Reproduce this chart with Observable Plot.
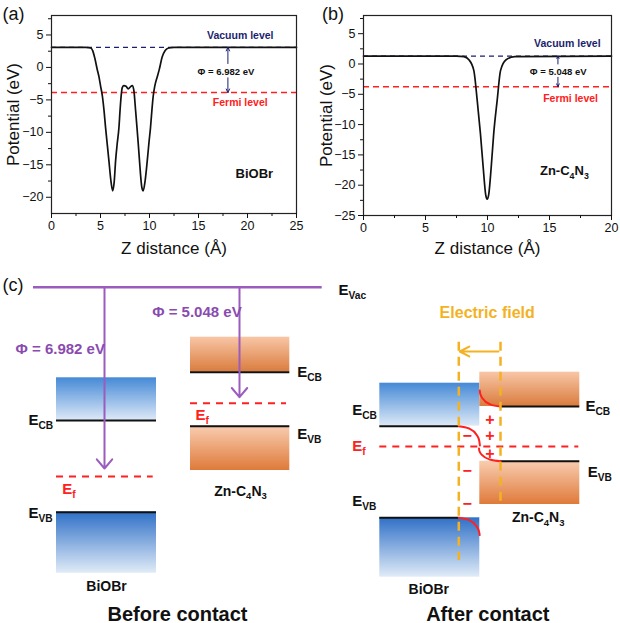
<!DOCTYPE html>
<html><head><meta charset="utf-8">
<script src="https://cdn.jsdelivr.net/npm/d3@7"></script>
<script src="https://cdn.jsdelivr.net/npm/@observablehq/plot@0.6"></script>
<style>
body{margin:0;background:#fff;}
#root{position:relative;width:620px;height:623px;overflow:hidden;background:#fff;}
#root > svg{position:absolute;}
</style></head><body><div id="root"></div>
<script>
const FONT = '"Liberation Sans", Arial, Helvetica, sans-serif';
const NAVY = "#1c1f6e", RED = "#ff2020", PURPLE = "#9a5cbd", PURPLE_TXT = "#8a4bb0", GOLD = "#f4b223";

// ---------- Panel (a): BiOBr planar-averaged potential ----------
const zA = [0, 3.5, 4.0, 4.2, 4.44, 4.65, 4.85, 5.0, 5.19, 5.35, 5.52, 5.7, 5.86, 6.05, 6.24, 6.4, 6.54, 6.7, 6.88, 7.0, 7.12, 7.22, 7.39, 7.6, 7.83, 8.05, 8.24, 8.4, 8.58, 8.72, 8.85, 9.0, 9.08, 9.22, 9.36, 9.55, 9.77, 9.95, 10.1, 10.25, 10.38, 10.55, 10.78, 11.0, 11.29, 11.6, 11.96, 12.5, 25];
const vA = [3.1, 3.1, 3.0, 2.6, 1.3, -0.2, -1.5, -2.8, -4.4, -6.5, -9.3, -12, -14.4, -17.3, -19, -17.6, -14.4, -11.8, -9.3, -6.5, -4.2, -3.1, -2.8, -2.9, -3.3, -3.0, -2.8, -3.5, -6.6, -9.2, -11.7, -14.8, -16.4, -18.5, -19, -17.5, -14.4, -11.5, -9.3, -6.5, -4.4, -2.8, -1.5, -0.3, 1.6, 2.6, 3.0, 3.1, 3.1];
const vacuumA = 3.1, fermiA = -3.88, phiA = 6.982;
const xTicksA = [0, 5, 10, 15, 20, 25], xMinorA = [2.5, 7.5, 12.5, 17.5, 22.5];
const yTicksA = [-20, -15, -10, -5, 0, 5], yMinorA = [-17.5, -12.5, -7.5, -2.5, 2.5, 7.5];

// ---------- Panel (b): Zn-C4N3 planar-averaged potential ----------
const zB = [0, 7.5, 8.1, 8.5, 8.9, 9.17, 9.43, 9.65, 9.85, 9.97, 10.1, 10.3, 10.5, 10.78, 11.05, 11.5, 12.2, 20];
const vB = [1.3, 1.3, 1.2, 0.7, -1.1, -6, -11.5, -17, -21.5, -22.3, -21.5, -17, -11.5, -6, -1.1, 0.7, 1.2, 1.3];
const vacuumB = 1.3, fermiB = -3.75, phiB = 5.048;
const xTicksB = [0, 5, 10, 15, 20], xMinorB = [2.5, 7.5, 12.5, 17.5];
const yTicksB = [-25, -20, -15, -10, -5, 0, 5], yMinorB = [-22.5, -17.5, -12.5, -7.5, -2.5, 2.5, 7.5];

// annotations of (a) and (b) in data units
const noteTextA = ["Vacuum level", "Φ = 6.982 eV", "Fermi level", "BiOBr"];
const noteZA = [19.26, 17.8, 19.26, 20.7];
const noteVA = [4.9, -0.66, -5.4, -16.4];
const noteTextB = ["Vacuum level", "Φ = 5.048 eV", "Fermi level", "Zn-C_{4}N_{3}"];
const noteZB = [16.44, 15.7, 16.7, 16.2];
const noteVB = [3.3, -1.27, -5.77, -17.7];
const arrowZA = 18.0, arrowSegA = [[0.6, vacuumA], [-1.6, fermiA]];
const arrowZB = 15.68, arrowSegB = [[0.0, vacuumB], [-2.2, fermiB]];

// ---------- Panel (c): band diagram (schematic units) ----------
const vacY = 286.7, vacX1 = 33, vacX2 = 321.7;
const bandName   = ["BiOBr CB before","BiOBr VB before","Zn-C4N3 CB before","Zn-C4N3 VB before","BiOBr CB after","BiOBr VB after","Zn-C4N3 CB after","Zn-C4N3 VB after"];
const bandLeft   = [56, 56, 190, 190, 379.3, 379.3, 479.3, 479.3];
const bandRight  = [156, 156, 289.3, 289.3, 479.3, 479.3, 579.3, 579.3];
const bandTop    = [377.3, 511.7, 336.7, 425.7, 382.7, 517.3, 371.7, 460.7];
const bandBottom = [420, 572.7, 371.7, 470, 425.7, 576.7, 406, 504];
const bandGrad   = ["gBlueCB","gBlueVB","gOrangeCB","gOrangeVB","gBlueCB","gBlueVB","gOrangeCB","gOrangeVB"];
const edgeX1 = [56, 56, 190, 190, 379.3, 379.3, 500, 500];
const edgeX2 = [156, 156, 289.3, 289.3, 458.3, 458.3, 579.3, 579.3];
const edgeY  = [420, 511.7, 371.7, 425.7, 425.7, 517.3, 406, 460.7];
const fermiX1 = [56, 190, 379.3], fermiX2 = [152.7, 286, 578.3], fermiY = [476, 402.7, 446];
const phiArrowX = [104, 239], phiArrowEnd = [468, 396.7];
const fieldLineX = [458.3, 500], fieldLineTop = 341.7, fieldLineBottom = [560, 501.7];
const fieldArrowFrom = 498, fieldArrowTo = 459.3, fieldArrowY = 351;
const bends = [
  [[458.3,425.7],[468.7,428],[476.2,434.4],[478.7,440],[479.4,445]],
  [[458.3,517.3],[468.7,519.6],[476.2,526],[478.7,531.6],[479.2,534.6]],
  [[479.3,390],[479.6,392.8],[482.1,398],[489.7,403.9],[500,406]],
  [[478.5,448],[478.8,450.2],[481.4,454.4],[489.3,459],[500,460.7]]
];
const plusX = [489.3, 489.3, 489.3], plusY = [419.3, 435.7, 453.5];
const minusX = [466.7, 466.7, 466.7], minusY = [435.7, 470, 503.3];

const levelText = ["E_{Vac}","E_{CB}","E_{VB}","E_{CB}","E_{VB}","E_{CB}","E_{VB}","E_{CB}","E_{VB}"];
const levelX = [338, 28, 28, 296.7, 296.7, 351.7, 351.7, 585, 587.3];
const levelY = [294, 424, 517.5, 376.7, 438.3, 414, 505.7, 410, 476.7];
const efText = ["E_{f}","E_{f}","E_{f}"];
const efX = [61.7, 195, 351.7], efY = [493.3, 419.3, 450];
const phiText = ["Φ = 5.048 eV", "Φ = 6.982 eV"];
const phiTextX = [151.7, 15], phiTextY = [316, 353.3];
const nameText = ["BiOBr", "Zn-C_{4}N_{3}", "BiOBr", "Zn-C_{4}N_{3}"];
const nameX = [106, 240, 428.3, 537.7], nameY = [590, 495, 593.3, 521.7];
const titleText = ["Before contact", "After contact"];
const titleX = [177, 487.3], titleY = [620, 620];

// ---------- helpers ----------
const idx = n => d3.range(n);
function potentialPlot(o) {
  const pts = o.z.map((z, i) => ({z, v: o.v[i]}));
  return Plot.plot({
    width: 310, height: 265,
    marginLeft: o.ml, marginRight: o.mr, marginTop: 15, marginBottom: o.mb,
    style: {fontFamily: FONT, fontSize: "12.5px", color: "#111", background: "transparent", overflow: "visible"},
    x: {domain: o.xDomain},
    y: {domain: o.yDomain},
    marks: [
      Plot.ruleY([o.vac], {stroke: NAVY, strokeWidth: 1.2, strokeDasharray: "5,4"}),
      Plot.ruleY([o.fermi], {stroke: RED, strokeWidth: 1.5, strokeDasharray: "6,4"}),
      Plot.line(pts, {x: "z", y: "v", curve: "monotone-x", stroke: "#111", strokeWidth: 1.7}),
      Plot.frame({stroke: "#222", strokeWidth: 1.2}),
      Plot.axisX(o.xt, {tickSize: 5, tickPadding: 3, label: null}),
      Plot.axisX(o.xm, {tickSize: 3, tickFormat: () => "", label: null}),
      Plot.axisY(o.yt, {tickSize: 5, tickPadding: 3, label: null}),
      Plot.axisY(o.ym, {tickSize: 3, tickFormat: () => "", label: null}),
      Plot.text(["Z distance (Å)"], {text: d => d, frameAnchor: "bottom", textAnchor: "middle", lineAnchor: "bottom", dy: o.xlabDy, fontSize: 17}),
      Plot.text(["Potential (eV)"], {text: d => d, frameAnchor: "left", textAnchor: "middle", lineAnchor: "middle", rotate: -90, dx: o.ylabDx, fontSize: 17}),
      Plot.text([o.letter], {text: d => d, frameAnchor: "top-left", dx: o.letterDx, dy: 4, textAnchor: "start", lineAnchor: "bottom", fontSize: 18}),
      Plot.arrow(o.seg, {x1: () => o.az, x2: () => o.az, y1: d => d[0], y2: d => d[1], stroke: NAVY, strokeWidth: 1, headLength: 6, headAngle: 50}),
      Plot.text(idx(1), {x: i => o.nz[0], y: i => o.nv[0], text: i => o.nt[0], fill: NAVY, fontWeight: "bold", fontSize: 10.5}),
      Plot.text(idx(1), {x: i => o.nz[1], y: i => o.nv[1], text: i => o.nt[1], fill: "#111", fontWeight: "bold", fontSize: 9.5}),
      Plot.text(idx(1), {x: i => o.nz[2], y: i => o.nv[2], text: i => o.nt[2], fill: RED, fontWeight: "bold", fontSize: 10.5}),
      Plot.text(idx(1), {x: i => o.nz[3], y: i => o.nv[3], text: i => o.nt[3], fill: "#111", fontWeight: "bold", fontSize: 13})
    ]
  });
}

function subify(root) {
  root.querySelectorAll("text").forEach(t => {
    const s = t.textContent;
    if (!s.includes("_{")) return;
    const fs = parseFloat(getComputedStyle(t).fontSize);
    const parts = s.split(/(_\{[^}]*\})/).filter(p => p);
    while (t.firstChild) t.removeChild(t.firstChild);
    let shift = 0;
    for (const p of parts) {
      const ts = document.createElementNS("http://www.w3.org/2000/svg", "tspan");
      if (p.startsWith("_{")) {
        ts.textContent = p.slice(2, -1);
        ts.setAttribute("font-size", (fs * 0.68).toFixed(1));
        ts.setAttribute("font-weight", "bold");
        const target = fs * 0.28;
        ts.setAttribute("dy", (target - shift).toFixed(1));
        shift = target;
      } else {
        ts.textContent = p;
        if (shift) { ts.setAttribute("dy", (-shift).toFixed(1)); shift = 0; }
      }
      t.appendChild(ts);
    }
  });
}

const root = document.getElementById("root");

const plotA = potentialPlot({
  z: zA, v: vA, vac: vacuumA, fermi: fermiA, xDomain: [0, 25], yDomain: [-22.5, 8],
  ml: 51, mr: 14, mb: 52, xt: xTicksA, xm: xMinorA, yt: yTicksA, ym: yMinorA,
  xlabDy: 40, ylabDx: -38, letter: "(a)", letterDx: -49,
  az: arrowZA, seg: arrowSegA, nt: noteTextA, nz: noteZA, nv: noteVA
});
plotA.style.left = "0px"; plotA.style.top = "0px";
root.appendChild(plotA);

const plotB = potentialPlot({
  z: zB, v: vB, vac: vacuumB, fermi: fermiB, xDomain: [0, 20], yDomain: [-25, 8],
  ml: 53, mr: 9, mb: 50, xt: xTicksB, xm: xMinorB, yt: yTicksB, ym: yMinorB,
  xlabDy: 38, ylabDx: -37, letter: "(b)", letterDx: -41.5,
  az: arrowZB, seg: arrowSegB, nt: noteTextB, nz: noteZB, nv: noteVB
});
plotB.style.left = "310px"; plotB.style.top = "0px";
root.appendChild(plotB);

// ---------- Panel (c) ----------
const bandMarks = idx(bandName.length).map(i =>
  Plot.rect([i], {x1: () => bandLeft[i], x2: () => bandRight[i], y1: () => bandTop[i], y2: () => bandBottom[i], fill: `url(#${bandGrad[i]})`})
);
const plotC = Plot.plot({
  width: 620, height: 353, margin: 0,
  style: {fontFamily: FONT, color: "#111", background: "transparent", overflow: "visible"},
  x: {domain: [0, 620], range: [0, 620], axis: null},
  y: {domain: [270, 623], range: [0, 353], axis: null},
  marks: [
    ...bandMarks,
    Plot.ruleY(idx(edgeY.length), {y: i => edgeY[i], x1: i => edgeX1[i], x2: i => edgeX2[i], stroke: "#111", strokeWidth: 2}),
    Plot.ruleY(idx(fermiY.length), {y: i => fermiY[i], x1: i => fermiX1[i], x2: i => fermiX2[i], stroke: RED, strokeWidth: 2, strokeDasharray: "7,6"}),
    ...bends.map(b => Plot.line(b, {x: d => d[0], y: d => d[1], curve: "monotone-x", stroke: RED, strokeWidth: 2})),
    Plot.ruleX(idx(fieldLineX.length), {x: i => fieldLineX[i], y1: () => fieldLineTop, y2: i => fieldLineBottom[i], stroke: GOLD, strokeWidth: 2.5, strokeDasharray: "9,6"}),
    Plot.arrow([0], {x1: () => fieldArrowFrom, x2: () => fieldArrowTo, y1: () => fieldArrowY, y2: () => fieldArrowY, stroke: GOLD, strokeWidth: 2, headLength: 8, headAngle: 55}),
    Plot.ruleY([vacY], {x1: () => vacX1, x2: () => vacX2, stroke: PURPLE, strokeWidth: 2.5}),
    Plot.arrow(idx(phiArrowX.length), {x1: i => phiArrowX[i], x2: i => phiArrowX[i], y1: () => vacY, y2: i => phiArrowEnd[i], stroke: PURPLE, strokeWidth: 2, headLength: 9, headAngle: 80}),
    Plot.text(["(c)"], {text: d => d, x: () => 2, y: () => 290.7, textAnchor: "start", lineAnchor: "bottom", fontSize: 18}),
    Plot.text(idx(levelText.length), {x: i => levelX[i], y: i => levelY[i], text: i => levelText[i], textAnchor: "start", lineAnchor: "bottom", fontSize: 15, fontWeight: "bold", fill: "#111"}),
    Plot.text(idx(efText.length), {x: i => efX[i], y: i => efY[i], text: i => efText[i], textAnchor: "start", lineAnchor: "bottom", fontSize: 15, fontWeight: "bold", fill: RED}),
    Plot.text(idx(phiText.length), {x: i => phiTextX[i], y: i => phiTextY[i], text: i => phiText[i], textAnchor: "start", lineAnchor: "bottom", fontSize: 15, fontWeight: "bold", fill: PURPLE_TXT}),
    Plot.text(idx(nameText.length), {x: i => nameX[i], y: i => nameY[i], text: i => nameText[i], lineAnchor: "bottom", fontSize: 14, fontWeight: "bold", fill: "#111"}),
    Plot.text(idx(titleText.length), {x: i => titleX[i], y: i => titleY[i], text: i => titleText[i], lineAnchor: "bottom", fontSize: 20, fontWeight: "bold", fill: "#111"}),
    Plot.text(["Electric field"], {text: d => d, x: () => 486.7, y: () => 317.3, lineAnchor: "bottom", fontSize: 16, fontWeight: "bold", fill: GOLD}),
    Plot.text(idx(plusX.length), {x: i => plusX[i], y: i => plusY[i], text: () => "+", fontSize: 16, fontWeight: "bold", fill: RED}),
    Plot.text(idx(minusX.length), {x: i => minusX[i], y: i => minusY[i], text: () => "−", fontSize: 16, fontWeight: "bold", fill: RED})
  ]
});
plotC.style.left = "0px"; plotC.style.top = "270px";
// gradients for the band boxes
const defs = d3.select(plotC).insert("defs", ":first-child");
const grads = {
  gBlueCB: ["#4589d6", "#dde9f7"],
  gBlueVB: ["#2f70c7", "#e0ebf7"],
  gOrangeCB: ["#f8c6a6", "#da7c3e"],
  gOrangeVB: ["#f8cdb0", "#df7a3a"]
};
for (const [id, [c0, c1]] of Object.entries(grads)) {
  const g = defs.append("linearGradient").attr("id", id).attr("x1", 0).attr("y1", 0).attr("x2", 0).attr("y2", 1);
  g.append("stop").attr("offset", "0%").attr("stop-color", c0);
  g.append("stop").attr("offset", "100%").attr("stop-color", c1);
}
root.appendChild(plotC);

subify(root);
</script>
</body></html>
